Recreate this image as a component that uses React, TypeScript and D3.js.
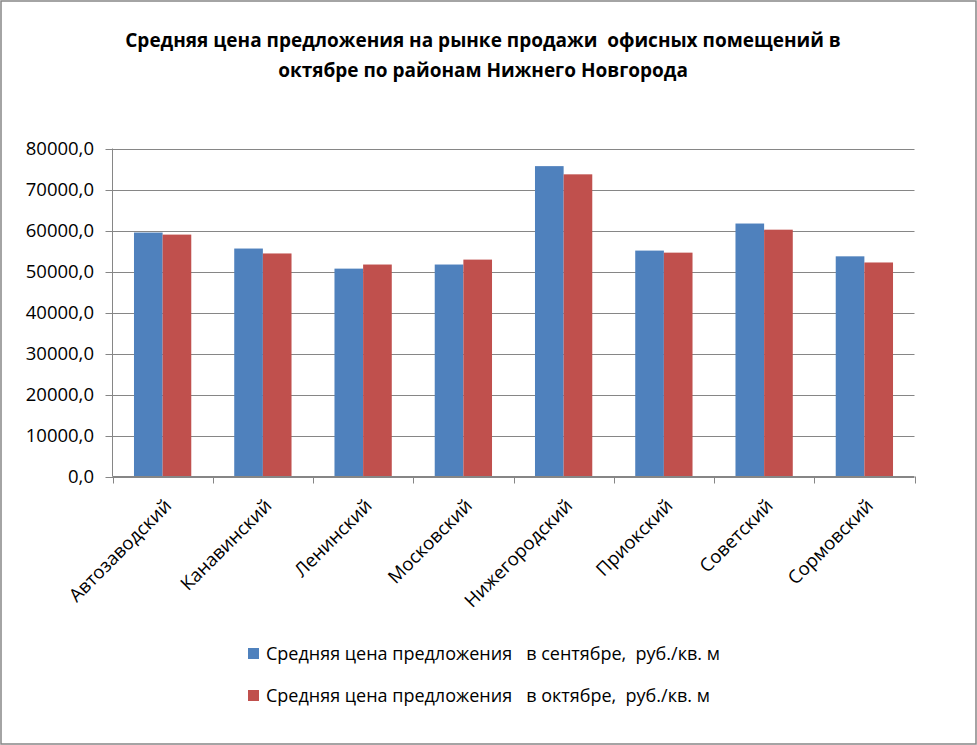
import React from 'react';
import * as d3 from 'd3';

const districts = ['Автозаводский', 'Канавинский', 'Ленинский', 'Московский', 'Нижегородский', 'Приокский', 'Советский', 'Сормовский'];
const septPrice = [59500, 55600, 50700, 51700, 75700, 55100, 61700, 53700];
const octPrice = [59000, 54400, 51700, 52900, 73700, 54600, 60200, 52200];
const seriesNames = [
  'Средняя цена предложения   в сентябре,  руб./кв. м',
  'Средняя цена предложения   в октябре,  руб./кв. м',
];
const seriesColors = ['#4f81bd', '#c0504d'];
const yTicks = [0, 10000, 20000, 30000, 40000, 50000, 60000, 70000, 80000];
const titleLines = [
  'Средняя цена предложения на рынке продажи  офисных помещений в',
  'октябре по районам Нижнего Новгорода',
];

const W = 977;
const H = 745;
const plot = { left: 112.5, right: 914.5, top: 148.5, bottom: 476.5 };
const grey = '#868686';
const font = '"Open Sans", "Noto Sans", sans-serif';

const App = () => {
  const x = d3.scaleBand<string>().domain(districts).range([plot.left, plot.right]);
  const y = d3.scaleLinear().domain([0, 80000]).range([plot.bottom, plot.top]);
  const step = x.bandwidth();
  const barW = step / 3.5;
  const gap = (step - barW * 2) / 2;
  const fmt = (v: number) => d3.format('.1f')(v).replace('.', ',');
  const series = [septPrice, octPrice];

  return (
    <svg width={W} height={H} style={{ position: 'absolute', left: 0, top: 0, background: '#fff' }}>
      <rect x={1} y={1} width={W - 2} height={H - 2} fill="#fff" stroke={grey} strokeWidth={1.5} />

      {titleLines.map((t, i) => (
        <text key={i} x={483} y={47 + i * 30} textAnchor="middle" fontFamily={font}
              fontWeight="bold" fontSize={19} fill="#000" style={{ whiteSpace: 'pre' }}>{t}</text>
      ))}

      {/* grid + y axis */}
      {yTicks.map(t => (
        <g key={t}>
          <line x1={plot.left - 7} x2={plot.right} y1={Math.round(y(t)) + 0.5} y2={Math.round(y(t)) + 0.5}
                stroke={grey} strokeWidth={1} />
          <text x={94} y={y(t) + 6.5} textAnchor="end" fontFamily={font} fontSize={18.5} fill="#000">{fmt(t)}</text>
        </g>
      ))}
      <line x1={plot.left} x2={plot.left} y1={plot.top} y2={plot.bottom} stroke={grey} />

      {/* bars */}
      {series.map((vals, s) => vals.map((v, i) => (
        <rect key={s + '-' + i} x={(x(districts[i]) as number) + gap + s * barW} y={y(v)}
              width={barW} height={y(0) - y(v)} fill={seriesColors[s]} />
      )))}

      {/* x axis */}
      <line x1={plot.left} x2={plot.right} y1={plot.bottom} y2={plot.bottom} stroke={grey} />
      {districts.concat(['']).map((d, i) => {
        const xx = Math.round(plot.left + i * step) + 0.5;
        return <line key={i} x1={xx} x2={xx} y1={plot.bottom} y2={plot.bottom + 7} stroke={grey} />;
      })}
      {districts.map(d => {
        const cx = (x(d) as number) + step / 2 + 10;
        const cy = 507;
        return (
          <text key={d} x={cx} y={cy} textAnchor="end" fontFamily={font} fontSize={18.5} fill="#000"
                transform={`rotate(-45, ${cx}, ${cy})`}>{d}</text>
        );
      })}

      {/* legend */}
      {seriesNames.map((n, i) => (
        <g key={i} transform={`translate(248, ${648 + i * 42})`}>
          <rect x={0} y={0} width={11} height={11} fill={seriesColors[i]} />
          <text x={18} y={12} fontFamily={font} fontSize={18} fill="#000" style={{ whiteSpace: 'pre' }}>{n}</text>
        </g>
      ))}
    </svg>
  );
};

export default App;
